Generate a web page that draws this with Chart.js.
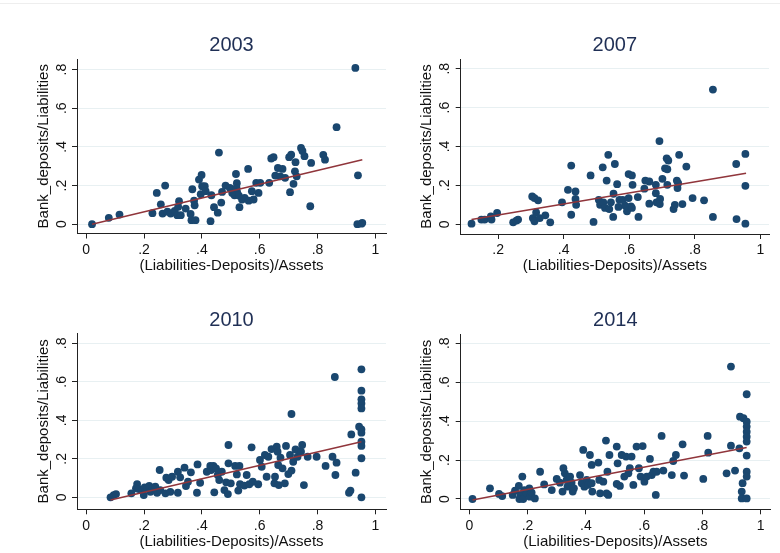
<!DOCTYPE html>
<html>
<head>
<meta charset="utf-8">
<script src="https://cdn.jsdelivr.net/npm/chart.js@4.4.0/dist/chart.umd.min.js"></script>
<style>
  body { margin: 0; background: #fff; }
  #wrap { position: relative; width: 780px; height: 553px; overflow: hidden; background: #fff; }
  #rule { position: absolute; left: 0; top: 3px; width: 780px; height: 1px; background: #eeeeee; }
  canvas { position: absolute; }
</style>
</head>
<body>
<div id="wrap">
  <div id="rule"></div>
  <canvas id="c2003"></canvas>
  <canvas id="c2007"></canvas>
  <canvas id="c2010"></canvas>
  <canvas id="c2014"></canvas>
</div>
<script>
// ---------- data ----------
const xTickVals = [0, 0.2, 0.4, 0.6, 0.8, 1];
const xTickText = ["0", ".2", ".4", ".6", ".8", "1"];
const yTickVals = [0, 0.2, 0.4, 0.6, 0.8];
const yTickText = ["0", ".2", ".4", ".6", ".8"];

const xTitle = "(Liabilities-Deposits)/Assets";
const yTitle = "Bank_deposits/Liabilities";

// 2003
const x2003 = [0.02,0.078,0.115,0.229,0.244,0.258,0.273,0.264,0.281,0.292,0.306,0.318,0.321,0.315,0.327,0.344,0.361,0.367,0.364,0.378,0.373,0.375,0.39,0.399,0.396,0.401,0.41,0.413,0.43,0.433,0.442,0.455,0.459,0.467,0.47,0.482,0.497,0.505,0.518,0.521,0.52,0.522,0.513,0.528,0.53,0.539,0.548,0.56,0.562,0.573,0.579,0.588,0.596,0.602,0.633,0.64,0.648,0.654,0.663,0.671,0.679,0.688,0.702,0.709,0.705,0.717,0.722,0.724,0.728,0.743,0.748,0.755,0.778,0.775,0.82,0.826,0.866,0.931,0.94,0.938,0.952,0.955];
const y2003 = [0,0.033,0.05,0.057,0.162,0.103,0.2,0.055,0.065,0.055,0.069,0.09,0.119,0.047,0.047,0.081,0.053,0.181,0.021,0.021,0.122,0.098,0.231,0.255,0.155,0.197,0.197,0.171,0.016,0.15,0.088,0.06,0.371,0.112,0.167,0.2,0.188,0.162,0.26,0.212,0.188,0.166,0.15,0.148,0.088,0.128,0.136,0.286,0.122,0.171,0.128,0.214,0.162,0.214,0.214,0.34,0.347,0.252,0.291,0.248,0.286,0.24,0.347,0.36,0.166,0.209,0.274,0.321,0.248,0.395,0.379,0.352,0.317,0.093,0.359,0.334,0.502,0.809,0.253,0,0.003,0.007];
const fitX2003 = [0.02, 0.955];
const fitY2003 = [0.0, 0.334];

// 2007
const x2007 = [0.119,0.149,0.159,0.178,0.18,0.197,0.246,0.256,0.261,0.304,0.311,0.322,0.306,0.311,0.316,0.327,0.344,0.359,0.395,0.413,0.423,0.423,0.436,0.436,0.438,0.482,0.491,0.507,0.511,0.519,0.521,0.526,0.531,0.536,0.539,0.544,0.551,0.552,0.556,0.563,0.567,0.57,0.58,0.587,0.593,0.598,0.598,0.605,0.608,0.608,0.61,0.626,0.628,0.646,0.649,0.661,0.661,0.681,0.681,0.683,0.692,0.694,0.693,0.701,0.709,0.714,0.716,0.719,0.716,0.735,0.739,0.745,0.747,0.749,0.752,0.762,0.774,0.793,0.828,0.855,0.855,0.926,0.927,0.954,0.954,0.954];
const y2007 = [0.003,0.024,0.024,0.041,0.024,0.058,0.01,0.019,0.024,0.143,0.135,0.123,0.032,0.015,0.061,0.032,0.046,0.01,0.113,0.177,0.302,0.049,0.169,0.13,0.1,0.251,0.012,0.126,0.1,0.293,0.113,0.084,0.225,0.357,0.078,0.113,0.038,0.157,0.31,0.206,0.089,0.126,0.126,0.096,0.067,0.258,0.135,0.092,0.251,0.084,0.203,0.14,0.038,0.183,0.225,0.22,0.106,0.203,0.16,0.113,0.428,0.13,0.104,0.234,0.288,0.339,0.283,0.328,0.203,0.078,0.1,0.225,0.186,0.211,0.357,0.104,0.297,0.135,0.123,0.693,0.038,0.31,0.027,0.362,0.198,0.003];
const fitX2007 = [0.119, 0.956];
const fitY2007 = [0.024, 0.263];

// 2010
const x2010 = [0.084,0.095,0.103,0.156,0.176,0.172,0.182,0.193,0.199,0.202,0.21,0.218,0.222,0.23,0.239,0.245,0.254,0.256,0.274,0.277,0.285,0.291,0.297,0.317,0.317,0.325,0.34,0.345,0.352,0.362,0.383,0.385,0.394,0.417,0.429,0.432,0.44,0.443,0.449,0.455,0.46,0.469,0.478,0.484,0.49,0.492,0.492,0.5,0.515,0.521,0.526,0.53,0.532,0.547,0.555,0.564,0.572,0.576,0.595,0.601,0.607,0.618,0.624,0.63,0.641,0.651,0.653,0.659,0.662,0.664,0.666,0.672,0.679,0.687,0.691,0.699,0.705,0.71,0.71,0.716,0.724,0.731,0.743,0.747,0.753,0.766,0.797,0.828,0.852,0.86,0.862,0.866,0.909,0.914,0.917,0.932,0.944,0.952,0.952,0.952,0.952,0.952,0.952,0.952,0.952,0.952,0.952,0.952];
const y2010 = [0,0.012,0.017,0.021,0.069,0.047,0.043,0.038,0.012,0.052,0.047,0.059,0.029,0.047,0.055,0.024,0.142,0.038,0.021,0.102,0.09,0.029,0.107,0.133,0.024,0.104,0.154,0.059,0.081,0.13,0.024,0.171,0.076,0.133,0.163,0.142,0.163,0.026,0.151,0.116,0.09,0.133,0.038,0.078,0.017,0.272,0.177,0.073,0.163,0.119,0.035,0.163,0.068,0.061,0.116,0.068,0.26,0.081,0.068,0.194,0.159,0.22,0.107,0.211,0.251,0.073,0.107,0.263,0.237,0.168,0.064,0.206,0.151,0.073,0.267,0.121,0.22,0.433,0.139,0.185,0.249,0.211,0.237,0.272,0.064,0.211,0.211,0.163,0.211,0.625,0.116,0.18,0.024,0.035,0.327,0.128,0.367,0.665,0.554,0.509,0.488,0.462,0.353,0.336,0.289,0.267,0.203,0];
const fitX2010 = [0.084, 0.952];
const fitY2010 = [-0.014, 0.289];

// 2014
const x2014 = [0.011,0.071,0.102,0.113,0.149,0.157,0.17,0.176,0.182,0.172,0.185,0.189,0.197,0.206,0.208,0.214,0.225,0.243,0.257,0.283,0.3,0.311,0.32,0.323,0.328,0.334,0.337,0.346,0.351,0.355,0.359,0.38,0.386,0.391,0.395,0.403,0.408,0.414,0.42,0.422,0.42,0.443,0.449,0.446,0.46,0.469,0.471,0.474,0.477,0.481,0.506,0.506,0.509,0.517,0.523,0.532,0.538,0.546,0.551,0.557,0.563,0.574,0.582,0.588,0.595,0.601,0.609,0.62,0.626,0.632,0.64,0.643,0.66,0.666,0.695,0.7,0.709,0.732,0.737,0.803,0.818,0.82,0.883,0.898,0.898,0.912,0.927,0.929,0.935,0.935,0.938,0.941,0.952,0.952,0.952,0.952,0.952,0.952,0.952,0.952,0.952,0.952];
const y2014 = [0,0.055,0.026,0.015,0.021,0.043,0.067,0.021,0.115,0,0,0.046,0.029,0.055,0.012,0.033,0.003,0.14,0.075,0.046,0.103,0.084,0.038,0.158,0.132,0.098,0.063,0.115,0.084,0.038,0.055,0.123,0.081,0.252,0.063,0.098,0.072,0.226,0.175,0.038,0.081,0.187,0.029,0.098,0.089,0.3,0.029,0.14,0.021,0.226,0.269,0.077,0.183,0.067,0.226,0.115,0.218,0.132,0.158,0.218,0.072,0.269,0.158,0.115,0.272,0.089,0.115,0.206,0.123,0.14,0.021,0.14,0.324,0.146,0.123,0.195,0.226,0.281,0.12,0.103,0.324,0.238,0.132,0.68,0.274,0.146,0.26,0.423,0.003,0.038,0.081,0.415,0.538,0.397,0.372,0.346,0.32,0.295,0.223,0.14,0.115,0.003];
const fitX2014 = [0.011, 0.952];
const fitY2014 = [-0.005, 0.264];

// ---------- layout of the four panels ----------
const FONT = "'Liberation Sans', Arial, Helvetica, sans-serif";
const NAVY = "#1a476f";
const MAROON = "#90353b";
const INK = "#111111";
const AXIS = "#222222";
const GRID = "#e8f0f2";
const Y_AXIS_W = 47;

Chart.defaults.font.family = FONT;

const panels = [
  { id: "c2003", year: "2003", xs: x2003, ys: y2003, fx: fitX2003, fy: fitY2003, xt: 0,
    cv: { left: 0, top: 0, w: 390, h: 276 }, area: { l: 77, r: 388.3, t: 59, b: 233.5 },
    titleY: 45, xTitleY: 265.5, xr: [-0.032, 1.037], yr: [-0.048, 0.855] },
  { id: "c2007", year: "2007", xs: x2007, ys: y2007, fx: fitX2007, fy: fitY2007, xt: 1,
    cv: { left: 390, top: 0, w: 390, h: 276 }, area: { l: 460.7, r: 769, t: 59, b: 234 },
    titleY: 45, xTitleY: 265.5, xr: [0.086, 1.026], yr: [-0.05, 0.85] },
  { id: "c2010", year: "2010", xs: x2010, ys: y2010, fx: fitX2010, fy: fitY2010, xt: 0,
    cv: { left: 0, top: 276, w: 390, h: 277 }, area: { l: 77, r: 388.3, t: 333.3, b: 509.3 },
    titleY: 320.5, xTitleY: 541.5, xr: [-0.032, 1.037], yr: [-0.062, 0.852] },
  { id: "c2014", year: "2014", xs: x2014, ys: y2014, fx: fitX2014, fy: fitY2014, xt: 0,
    cv: { left: 390, top: 276, w: 390, h: 277 }, area: { l: 460.7, r: 770, t: 334.3, b: 509.3 },
    titleY: 320.5, xTitleY: 541.5, xr: [-0.0295, 1.032], yr: [-0.053, 0.846] }
];

function drawPanel(p) {
  const el = document.getElementById(p.id);
  const c = p.cv, a = p.area;
  el.style.left = c.left + "px";
  el.style.top = c.top + "px";
  el.width = c.w;
  el.height = c.h;

  const xv = xTickVals.slice(p.xt);
  const xl = xTickText.slice(p.xt);

  new Chart(el, {
    type: "scatter",
    data: {
      datasets: [
        {
          type: "line",
          data: p.fx.map((x, i) => ({ x: x, y: p.fy[i] })),
          borderColor: MAROON,
          borderWidth: 1.5,
          pointRadius: 0,
          fill: false,
          order: 0
        },
        {
          data: p.xs.map((x, i) => ({ x: x, y: p.ys[i] })),
          backgroundColor: NAVY,
          borderColor: NAVY,
          borderWidth: 0,
          pointRadius: 3.9,
          order: 1
        }
      ]
    },
    options: {
      responsive: false,
      animation: false,
      events: [],
      layout: {
        padding: {
          left: a.l - c.left - Y_AXIS_W,
          right: c.left + c.w - a.r,
          top: 0,
          bottom: 0
        }
      },
      plugins: {
        legend: { display: false },
        tooltip: { enabled: false },
        title: {
          display: true,
          text: p.year,
          fullSize: false,
          color: "#1f2f55",
          font: { size: 20, weight: "normal", lineHeight: 1.2 },
          padding: { top: p.titleY - c.top - 12, bottom: a.t - p.titleY - 12 }
        }
      },
      scales: {
        x: {
          type: "linear",
          min: p.xr[0],
          max: p.xr[1],
          afterBuildTicks: s => { s.ticks = xv.map(v => ({ value: v })); },
          afterFit: s => { s.height = c.top + c.h - a.b; },
          grid: { display: true, drawOnChartArea: false, drawTicks: true, tickLength: 5, tickColor: AXIS },
          border: { display: true, color: AXIS, width: 1 },
          ticks: {
            color: INK, font: { size: 14 }, padding: 3, maxRotation: 0, autoSkip: false,
            callback: v => xl[xv.indexOf(v)]
          },
          title: {
            display: true, text: xTitle, color: INK, font: { size: 15, lineHeight: 1.2 },
            padding: { top: 0, bottom: c.top + c.h - p.xTitleY - 9 }
          }
        },
        y: {
          type: "linear",
          min: p.yr[0],
          max: p.yr[1],
          afterBuildTicks: s => { s.ticks = yTickVals.map(v => ({ value: v })); },
          afterFit: s => { s.width = Y_AXIS_W; },
          grid: { display: true, color: GRID, lineWidth: 1, drawTicks: true, tickLength: 5, tickColor: AXIS },
          border: { display: true, color: AXIS, width: 1 },
          ticks: {
            color: INK, font: { size: 14 }, padding: 4.5, minRotation: 90, maxRotation: 90,
            crossAlign: "center", autoSkip: false,
            callback: v => yTickText[yTickVals.indexOf(v)]
          },
          title: {
            display: true, text: yTitle, color: INK, font: { size: 15, lineHeight: 1.2 },
            padding: { top: 4.5, bottom: 0 }
          }
        }
      }
    }
  });
}

panels.forEach(drawPanel);
</script>
</body>
</html>
